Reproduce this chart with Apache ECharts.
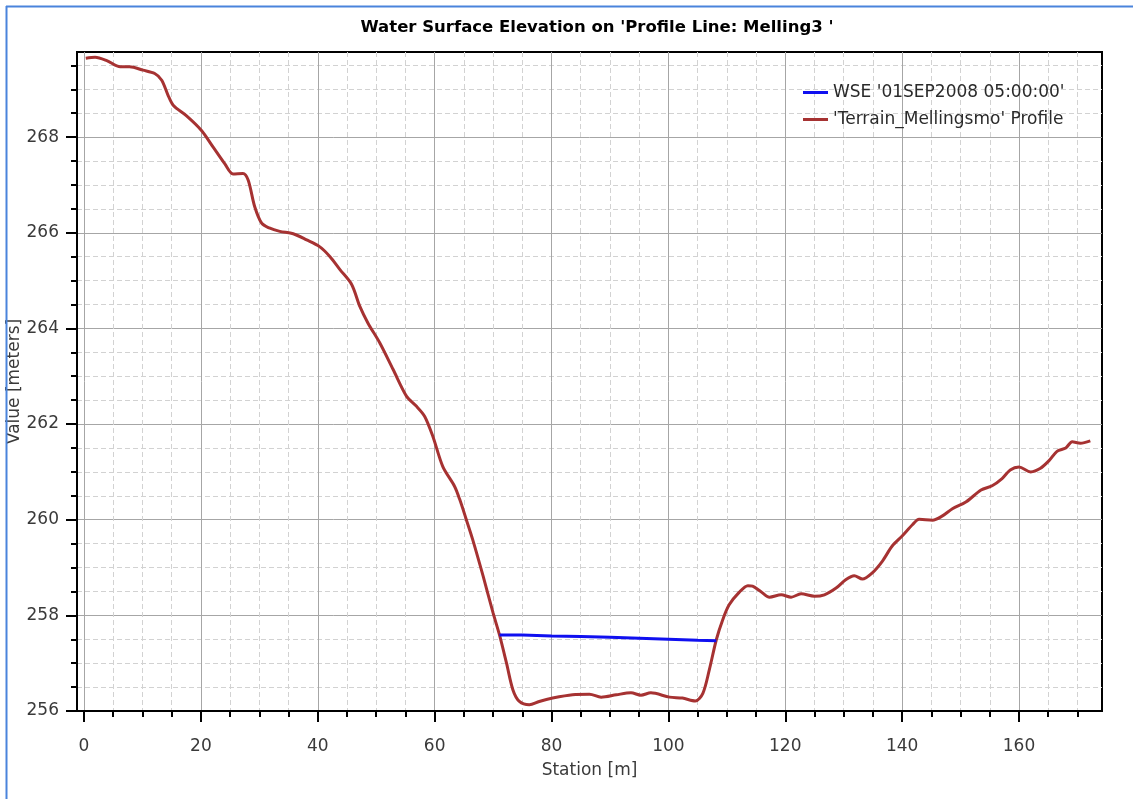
<!DOCTYPE html>
<html>
<head>
<meta charset="utf-8">
<title>Water Surface Elevation</title>
<script src="https://cdn.jsdelivr.net/npm/echarts@6/dist/echarts.min.js"></script>
<style>
  html, body { margin: 0; padding: 0; background: #ffffff; }
  #chart { width: 1133px; height: 799px; }
</style>
</head>
<body>
<div id="chart"></div>
<script>
// Terrain profile along the profile line (station in m, elevation in m)
const stationM = [
  0.3, 1.9, 3.9, 6.2, 7.8, 10.1, 12.1, 13.3, 14.4, 15.3, 17.5, 20.1, 22.1, 24.1, 25.5, 27.2, 28.1,
  29.2, 30.4, 31.7, 33.5, 35.8, 38.1, 40.3, 42.1, 43.8, 45.8, 47.2, 48.6, 50.6, 52.9, 55.2, 56.9,
  58.3, 59.7, 61.4, 63.4, 64.3, 65.4, 66.5, 68.3, 70.0, 71.1, 72.3, 73.4, 74.5, 76.2, 77.9, 80.2,
  83.6, 86.5, 88.5, 91.1, 93.6, 95.3, 97.0, 100.2, 102.4, 104.6, 105.9, 107.0, 108.2, 109.3, 110.4,
  112.1, 113.6, 114.4, 115.8, 117.3, 119.3, 121.0, 122.7, 125.0, 126.7, 128.7, 130.4, 131.8, 133.2,
  134.9, 136.6, 138.3, 140.0, 141.8, 142.9, 145.2, 146.9, 148.6, 150.9, 153.5, 155.4, 157.1, 158.5,
  160.0, 162.0, 163.6, 165.1, 166.5, 168.0, 169.1, 170.5, 172.2
];
const terrainElev = [
  269.65, 269.67, 269.60, 269.47, 269.47, 269.40, 269.33, 269.19, 268.87, 268.66, 268.45, 268.14, 267.79, 267.44, 267.23, 267.24, 267.10,
  266.55, 266.20, 266.10, 266.03, 265.98, 265.85, 265.71, 265.50, 265.23, 264.92, 264.46, 264.11, 263.70, 263.14, 262.58, 262.37,
  262.16, 261.74, 261.11, 260.70, 260.42, 260.01, 259.59, 258.82, 258.05, 257.59, 257.00, 256.44, 256.20, 256.13, 256.20, 256.27,
  256.34, 256.35, 256.29, 256.34, 256.38, 256.33, 256.38, 256.29, 256.27, 256.21, 256.37, 256.86, 257.49, 257.91, 258.22,
  258.48, 258.62, 258.61, 258.50, 258.38, 258.43, 258.38, 258.45, 258.40, 258.43, 258.57, 258.75, 258.83, 258.76,
  258.89, 259.13, 259.45, 259.66, 259.90, 260.01, 259.99, 260.08, 260.23, 260.37, 260.62, 260.71, 260.86, 261.04,
  261.10, 261.00, 261.07, 261.23, 261.43, 261.50, 261.63, 261.60, 261.65
];

// Water surface across the wetted channel
const wseStation = [71.1, 75.0, 80.0, 85.0, 90.0, 95.0, 100.0, 105.0, 108.2];
const wseElev    = [257.59, 257.59, 257.57, 257.56, 257.54, 257.52, 257.50, 257.48, 257.47];

// Axis ticks
const xMajorTicks = [0, 20, 40, 60, 80, 100, 120, 140, 160];
const xMinorTicks = [5, 10, 15, 25, 30, 35, 45, 50, 55, 65, 70, 75, 85, 90, 95,
                     105, 110, 115, 125, 130, 135, 145, 150, 155, 165, 170];
const yMajorTicks = [256, 258, 260, 262, 264, 266, 268];
const yMinorTicks = [256.5, 257, 257.5, 258.5, 259, 259.5, 260.5, 261, 261.5, 262.5, 263, 263.5,
                     264.5, 265, 265.5, 266.5, 267, 267.5, 268.5, 269, 269.5];

const seriesNames = ["WSE '01SEP2008 05:00:00'", "'Terrain_Mellingsmo' Profile"];
const titleText = "Water Surface Elevation on 'Profile Line: Melling3 '";

const X_MIN = -1.2, X_MAX = 174.2;
const Y_MIN = 256, Y_MAX = 269.78;
const FONT = "'DejaVu Sans', 'Noto Sans', sans-serif";
const LABEL_COLOR = '#3a3a3a';

const zip = (xs, ys) => xs.map((x, i) => [x, ys[i]]);

const chart = echarts.init(document.getElementById('chart'), null, { renderer: 'canvas' });

const majorX = {
  type: 'value', position: 'bottom', min: X_MIN, max: X_MAX,
  name: 'Station [m]', nameLocation: 'middle', nameGap: 51, nameMoveOverlap: false,
  nameTextStyle: { fontFamily: FONT, fontSize: 17, color: LABEL_COLOR },
  axisLine: { show: true, onZero: false, lineStyle: { color: '#000', width: 2 } },
  axisTick: { show: true, inside: false, length: 11, customValues: xMajorTicks, lineStyle: { color: '#000', width: 2 } },
  axisLabel: { show: true, customValues: xMajorTicks, margin: 27, fontFamily: FONT, fontSize: 17, color: LABEL_COLOR },
  splitLine: { show: true, lineStyle: { color: '#a6a6a6', width: 1 } },
  minorTick: { show: false }, minorSplitLine: { show: false }
};
const minorX = {
  type: 'value', position: 'bottom', min: X_MIN, max: X_MAX,
  axisLine: { show: false, onZero: false },
  axisTick: { show: true, inside: false, length: 6, customValues: xMinorTicks, lineStyle: { color: '#000', width: 2 } },
  axisLabel: { show: false },
  splitLine: { show: true, lineStyle: { color: '#d2d2d2', width: 1, type: [5, 3] } }
};
const majorY = {
  type: 'value', position: 'left', min: Y_MIN, max: Y_MAX,
  name: 'Value [meters]', nameLocation: 'middle', nameGap: 54, nameMoveOverlap: false,
  nameTextStyle: { fontFamily: FONT, fontSize: 17, color: LABEL_COLOR },
  axisLine: { show: true, onZero: false, lineStyle: { color: '#000', width: 2 } },
  axisTick: { show: true, inside: false, length: 11, customValues: yMajorTicks, lineStyle: { color: '#000', width: 2 } },
  axisLabel: { show: true, customValues: yMajorTicks, margin: 18, fontFamily: FONT, fontSize: 17, color: LABEL_COLOR },
  splitLine: { show: true, lineStyle: { color: '#a6a6a6', width: 1 } }
};
const minorY = {
  type: 'value', position: 'left', min: Y_MIN, max: Y_MAX,
  axisLine: { show: false, onZero: false },
  axisTick: { show: true, inside: false, length: 6, customValues: yMinorTicks, lineStyle: { color: '#000', width: 2 } },
  axisLabel: { show: false },
  splitLine: { show: true, lineStyle: { color: '#d2d2d2', width: 1, type: [5, 3] } }
};

chart.setOption({
  animation: false,
  backgroundColor: '#ffffff',
  title: {
    text: titleText,
    left: 592, top: 14, textAlign: 'center',
    textStyle: { fontFamily: FONT, fontSize: 16.5, fontWeight: 'bold', color: '#000' }
  },
  legend: {
    orient: 'vertical', left: 798, top: 79,
    itemWidth: 25, itemHeight: 3, itemGap: 10, icon: 'rect',
    textStyle: { fontFamily: FONT, fontSize: 17, color: '#2a2a2a' },
    data: seriesNames
  },
  grid: {
    left: 77, top: 52, right: 31, bottom: 88,
    outerBoundsMode: 'none', containLabel: false,
    show: true, borderColor: '#000', borderWidth: 2, backgroundColor: 'transparent'
  },
  xAxis: [minorX, majorX],
  yAxis: [minorY, majorY],
  graphic: [
    { type: 'line', silent: true, z: 100, shape: { x1: 6.5, y1: 6, x2: 6.5, y2: 799 }, style: { stroke: '#4a84dc', lineWidth: 2 } },
    { type: 'line', silent: true, z: 100, shape: { x1: 6, y1: 6.5, x2: 1133, y2: 6.5 }, style: { stroke: '#4a84dc', lineWidth: 2 } }
  ],
  series: [
    {
      name: seriesNames[0], type: 'line', xAxisIndex: 1, yAxisIndex: 1,
      data: zip(wseStation, wseElev),
      symbol: 'none', smooth: false, z: 3,
      lineStyle: { color: '#1010f0', width: 3 }, itemStyle: { color: '#1010f0' }
    },
    {
      name: seriesNames[1], type: 'line', xAxisIndex: 1, yAxisIndex: 1,
      data: zip(stationM, terrainElev),
      symbol: 'none', smooth: 0.3, z: 2,
      lineStyle: { color: '#a63232', width: 3 }, itemStyle: { color: '#a63232' }
    }
  ]
});
</script>
</body>
</html>
